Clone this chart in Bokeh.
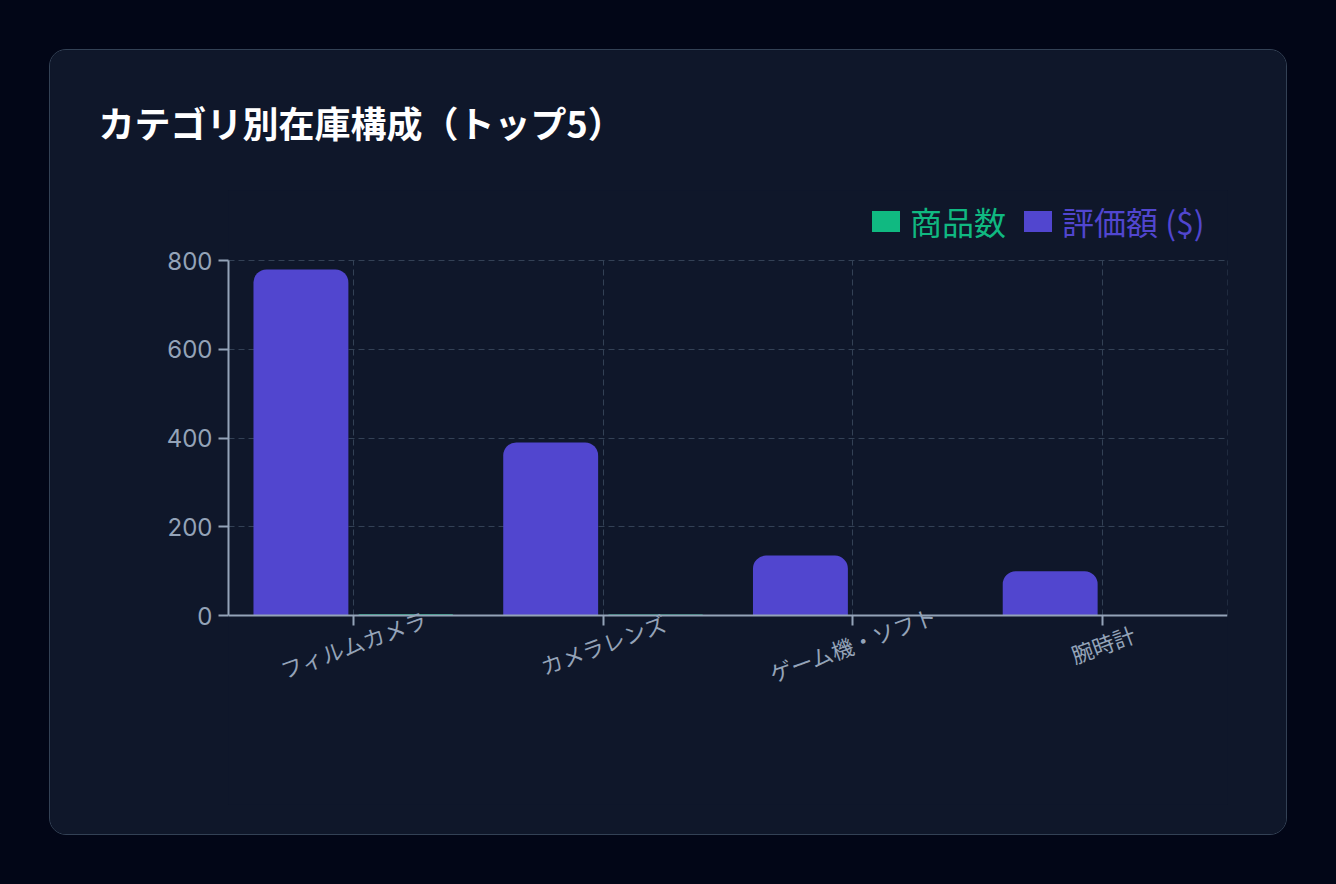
import re
from bokeh.plotting import figure
from bokeh.models import (FactorRange, Range1d, FixedTicker, ColumnDataSource,
                          Label, Legend, LegendItem)
from bokeh.transform import dodge
from bokeh.embed import file_html
from bokeh.resources import INLINE
from bokeh.core.properties import value

# ---- data ----
categories = ["フィルムカメラ", "カメラレンズ", "ゲーム機・ソフト", "腕時計"]
item_counts = [3, 2, 0, 0]
valuation = [780, 390, 135, 100]
y_ticks = [0, 200, 400, 600, 800]
series_names = ["商品数", "評価額 ($)"]
title_text = "カテゴリ別在庫構成（トップ5）"

# ---- styles ----
PAGE_BG = "#020617"
CARD = "#0f172a"
CARD_BORDER = "#334155"
GREEN = "#10b981"
PURPLE = "#5146cf"
TICK = "#94a3b8"
GRID = "#334155"
CJK = "Noto Sans CJK JP"

# ---- geometry (canvas pixels) ----
CARD_W, CARD_H = 1236, 784
LEFT, RIGHT = 178, 59            # frame left/right borders
AX_TOP, AX_BOTTOM = 210, 565     # where y=800 and y=0 sit
FRAME_T, BOTTOM = 140, 30        # frame spans the legend and the category labels
FRAME_H = CARD_H - FRAME_T - BOTTOM
per_px = (y_ticks[-1] - y_ticks[0]) / (AX_BOTTOM - AX_TOP)
y_start = y_ticks[0] - (FRAME_T + FRAME_H - AX_BOTTOM) * per_px
y_end = y_ticks[-1] + (AX_TOP - FRAME_T) * per_px

p = figure(
    x_range=FactorRange(factors=categories, range_padding=0),
    y_range=Range1d(y_start, y_end),
    frame_width=CARD_W - LEFT - RIGHT, frame_height=FRAME_H,
    min_border_left=LEFT, min_border_right=RIGHT,
    min_border_top=FRAME_T, min_border_bottom=BOTTOM,
    output_backend="svg", toolbar_location=None,
    background_fill_color=CARD, border_fill_color=CARD,
    outline_line_color=None,
    styles={"border-radius": "16px", "overflow": "hidden",
            "background-color": CARD,
            "outline": "1px solid " + CARD_BORDER},
)

# title
p.title.text = title_text
p.title.align = "left"
p.title.offset = 48 - LEFT
p.title.vertical_align = "middle"
p.title.standoff = 84
p.title.text_font = CJK
p.title.text_font_size = "36px"
p.title.text_font_style = "bold"
p.title.text_color = "white"

src = ColumnDataSource(dict(cat=categories, cnt=item_counts, val=valuation))
r_val = p.vbar(x=dodge("cat", -0.21, range=p.x_range), top="val", width=0.38,
               source=src, fill_color=PURPLE, line_color=None,
               border_radius=(13, 13, 0, 0))
r_cnt = p.vbar(x=dodge("cat", 0.21, range=p.x_range), top="cnt", width=0.38,
               source=src, fill_color=GREEN, line_color=None,
               border_radius=(13, 13, 0, 0))

# grid (limited to the value range)
for g in (p.xgrid, p.ygrid):
    g.grid_line_color = GRID
    g.grid_line_dash = "6 4"
    g.grid_line_width = 1
p.xgrid.cross_bounds = (y_ticks[0], y_ticks[-1])
n = len(categories)
p.segment(x0=[n], y0=[y_ticks[0]], x1=[n], y1=[y_ticks[-1]],
          line_color=GRID, line_dash="6 4", line_width=1)

# axes
p.yaxis.ticker = FixedTicker(ticks=y_ticks)
p.yaxis.bounds = (y_ticks[0], y_ticks[-1])
p.xaxis.fixed_location = y_ticks[0]
for ax in (p.xaxis, p.yaxis):
    ax.axis_line_color = TICK
    ax.axis_line_width = 2
    ax.major_tick_line_color = TICK
    ax.major_tick_line_width = 2
    ax.major_tick_out = 10
    ax.major_tick_in = 0
    ax.minor_tick_line_color = None
p.yaxis.major_label_text_font = "Inter"
p.yaxis.major_label_text_font_size = "24px"
p.yaxis.major_label_text_color = TICK
p.yaxis.major_label_standoff = 6
p.xaxis.major_label_text_color = None
p.xaxis.major_label_text_font_size = "1px"

# legends (one per item so each label keeps its colour)
def make_legend(name, rend, color, x):
    return Legend(items=[LegendItem(label=value(name), renderers=[rend])],
                  location=(x, FRAME_T + FRAME_H - 172.5 - 21), orientation="horizontal",
                  glyph_width=35, glyph_height=26, label_standoff=7,
                  label_text_font=CJK, label_text_font_size="32px",
                  label_text_color=color, padding=0, margin=0, spacing=0,
                  border_line_color=None, background_fill_alpha=0)

p.add_layout(make_legend(series_names[0], r_cnt, GREEN, 640))
p.add_layout(make_legend(series_names[1], r_val, PURPLE, 792))

# rotated category labels, centred under each tick (x = factor centre on the categorical scale)
for i, c in enumerate(categories):
    p.add_layout(Label(x=i + 0.5, y=AX_BOTTOM + 28, y_units="canvas",
                       text=c, angle=0.349, text_align="center",
                       text_baseline="middle", text_font=CJK,
                       text_font_size="22px", text_color=TICK))

html = file_html(p, INLINE, title=title_text)
css = ("<style>html,body{background-color:%s !important;}"
       "body{margin:0 !important;padding:50px 0 0 50px !important;}</style>" % PAGE_BG)
html = re.sub(r"</head>", css + "</head>", html, count=1)
open("out.html", "w").write(html)
